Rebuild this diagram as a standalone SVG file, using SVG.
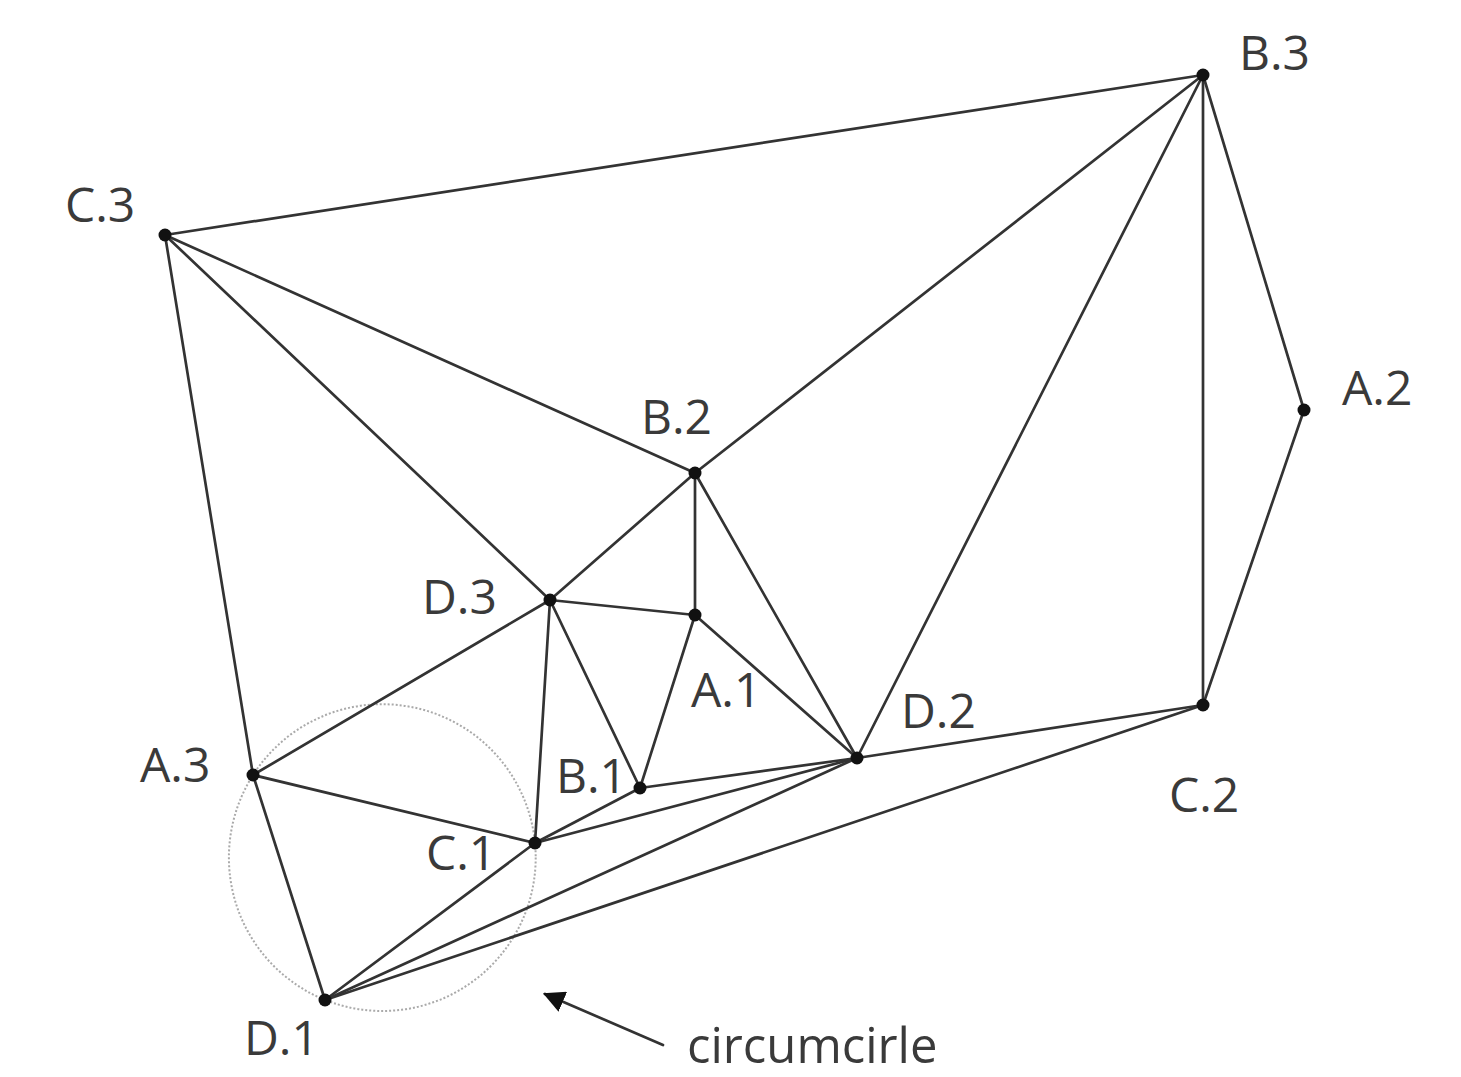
<svg xmlns="http://www.w3.org/2000/svg" width="1461" height="1077" viewBox="0 0 1461 1077">
<style>
.e{stroke:#333;stroke-width:2.7;fill:none;stroke-linecap:round}
.n{fill:#111}
.l{font-family:"Open Sans","DejaVu Sans",sans-serif;font-size:48px;fill:#3a3a3a}
.cc{fill:none;stroke:#aaa;stroke-width:2;stroke-dasharray:2 2}
</style>
<defs>
<marker id="ah" viewBox="0 0 10 10" refX="9" refY="5" markerWidth="8" markerHeight="8" markerUnits="strokeWidth" orient="auto">
<path d="M0,0 L10,5 L0,10 z" fill="#111"/>
</marker>
</defs>
<rect width="1461" height="1077" fill="#fff"/>
<g id="circumcircle">
<circle class="cc" cx="382.3" cy="857.6" r="153.4"/>
</g>
<g id="connectors">
<line class="e" x1="165" y1="235" x2="1203" y2="75"/>
<line class="e" x1="165" y1="235" x2="695" y2="473"/>
<line class="e" x1="165" y1="235" x2="550" y2="600"/>
<line class="e" x1="165" y1="235" x2="253" y2="775"/>
<line class="e" x1="1203" y1="75" x2="695" y2="473"/>
<line class="e" x1="1203" y1="75" x2="857" y2="758"/>
<line class="e" x1="1203" y1="75" x2="1203" y2="705"/>
<line class="e" x1="1203" y1="75" x2="1304" y2="410"/>
<line class="e" x1="1304" y1="410" x2="1203" y2="705"/>
<line class="e" x1="695" y1="473" x2="550" y2="600"/>
<line class="e" x1="695" y1="473" x2="695" y2="615"/>
<line class="e" x1="695" y1="473" x2="857" y2="758"/>
<line class="e" x1="550" y1="600" x2="695" y2="615"/>
<line class="e" x1="550" y1="600" x2="253" y2="775"/>
<line class="e" x1="550" y1="600" x2="535" y2="843"/>
<line class="e" x1="550" y1="600" x2="640" y2="788"/>
<line class="e" x1="695" y1="615" x2="640" y2="788"/>
<line class="e" x1="695" y1="615" x2="857" y2="758"/>
<line class="e" x1="857" y1="758" x2="1203" y2="705"/>
<line class="e" x1="640" y1="788" x2="857" y2="758"/>
<line class="e" x1="535" y1="843" x2="857" y2="758"/>
<line class="e" x1="535" y1="843" x2="640" y2="788"/>
<line class="e" x1="253" y1="775" x2="535" y2="843"/>
<line class="e" x1="253" y1="775" x2="325" y2="1000"/>
<line class="e" x1="535" y1="843" x2="325" y2="1000"/>
<line class="e" x1="325" y1="1000" x2="857" y2="758"/>
<line class="e" x1="325" y1="1000" x2="1203" y2="705"/>
<line class="e" x1="663" y1="1045" x2="545" y2="994" marker-end="url(#ah)"/>
</g>
<g id="B3"><circle class="n" cx="1203" cy="75" r="6.5"/><text class="l" x="1239" y="70">B.3</text></g>
<g id="C3"><circle class="n" cx="165" cy="235" r="6.5"/><text class="l" x="65" y="222">C.3</text></g>
<g id="A2"><circle class="n" cx="1304" cy="410" r="6.5"/><text class="l" x="1342" y="405">A.2</text></g>
<g id="B2"><circle class="n" cx="695" cy="473" r="6.5"/><text class="l" x="641" y="434">B.2</text></g>
<g id="D3"><circle class="n" cx="550" cy="600" r="6.5"/><text class="l" x="422" y="614">D.3</text></g>
<g id="A1"><circle class="n" cx="695" cy="615" r="6.5"/><text class="l" x="691" y="707">A.1</text></g>
<g id="D2"><circle class="n" cx="857" cy="758" r="6.5"/><text class="l" x="901" y="728">D.2</text></g>
<g id="C2"><circle class="n" cx="1203" cy="705" r="6.5"/><text class="l" x="1169" y="812">C.2</text></g>
<g id="A3"><circle class="n" cx="253" cy="775" r="6.5"/><text class="l" x="140" y="782">A.3</text></g>
<g id="B1"><circle class="n" cx="640" cy="788" r="6.5"/><text class="l" x="556" y="793">B.1</text></g>
<g id="C1"><circle class="n" cx="535" cy="843" r="6.5"/><text class="l" x="426" y="870">C.1</text></g>
<g id="D1"><circle class="n" cx="325" cy="1000" r="6.5"/><text class="l" x="244" y="1055">D.1</text></g>
<g id="label"><text class="l" x="687" y="1063" style="font-size:49px">circumcirle</text></g>
</svg>
